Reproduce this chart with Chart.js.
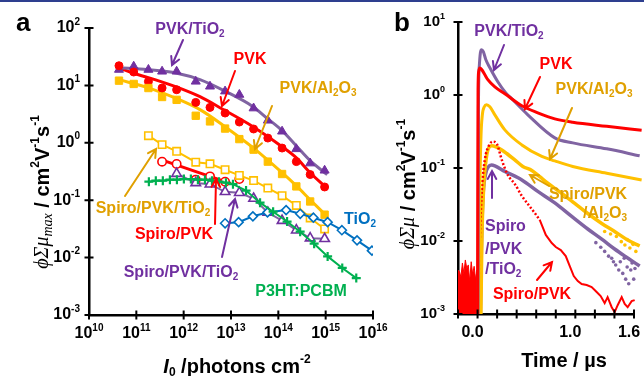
<!DOCTYPE html>
<html>
<head>
<meta charset="utf-8">
<script src="https://cdn.jsdelivr.net/npm/chart.js@4.4.1/dist/chart.umd.min.js"></script>
<style>
  html, body { margin: 0; padding: 0; background: #fff; }
  #wrap { position: relative; width: 644px; height: 376px; overflow: hidden; }
  #wrap canvas { position: absolute; left: 0; top: 0; }
  #topbar { position: absolute; left: 0; top: 0; width: 644px; height: 2px; background: #2e3f8f; }
</style>
</head>
<body>
<div id="wrap">
  <canvas id="chartA" width="644" height="376"></canvas>
  <canvas id="chartB" width="644" height="376"></canvas>
  <div id="topbar"></div>
</div>
<script>
/* ---------- panel a: peak mobility vs. photon fluence ---------- */
const intensity      = [4.3e10, 8.8e10, 1.8e11, 3.5e11, 7.1e11, 1.8e12, 3.6e12, 7.5e12, 1.5e13, 3.0e13, 6.0e13, 1.2e14, 2.4e14, 4.7e14, 9.5e14];
const pvkTiO2Max     = [18.8, 21.4, 18.8, 17.5, 17.5, 11.7, 9.6, 7.9, 6.9, 4.0, 2.45, 1.58, 0.78, 0.44, 0.33];
const pvkMax         = [22, 17.1, 11.7, 9.0, 8.4, 5.06, 4.14, 3.3, 2.3, 1.74, 1.21, 0.81, 0.47, 0.28, 0.17];
const pvkAl2O3Max    = [12.1, 10.6, 9.0, 6.28, 5.6, 2.96, 2.36, 1.77, 1.16, 0.76, 0.47, 0.286, 0.174, 0.095, 0.056];

const spiroGoldX     = [1.8e11, 3.5e11, 7.1e11, 1.8e12, 3.6e12, 7.5e12, 1.5e13, 3.0e13, 6.0e13, 1.2e14, 2.4e14, 4.7e14, 9.5e14];
const spiroGoldMax   = [1.33, 0.93, 0.71, 0.46, 0.43, 0.34, 0.27, 0.22, 0.163, 0.12, 0.081, 0.049, 0.0315];
const spiroPvkX      = [3.5e11, 7.1e11, 1.8e12, 3.6e12, 7.5e12, 1.5e13];
const spiroPvkMax    = [0.469, 0.428, 0.228, 0.26, 0.21, 0.234];
const spiroPurpleX   = [7.1e11, 1.8e12, 3.6e12, 7.5e12, 1.5e13, 3.0e13, 6.0e13, 1.2e14, 2.4e14, 4.7e14, 9.5e14];
const spiroPurpleMax = [0.29, 0.2, 0.19, 0.14, 0.135, 0.107, 0.061, 0.044, 0.030, 0.0218, 0.0213];
const tio2X          = [7.5e12, 1.45e13, 2.9e13, 5.9e13, 1.46e14, 2.9e14, 5.5e14, 1.1e15, 2.2e15, 4.6e15, 9.5e15];
const tio2Max        = [0.0396, 0.0414, 0.0524, 0.0612, 0.0673, 0.058, 0.0496, 0.0414, 0.030, 0.020, 0.0132];
const p3htX          = [1.84e11, 2.58e11, 3.63e11, 5.12e11, 7.2e11, 1.01e12, 1.42e12, 2.0e12, 2.82e12, 3.96e12, 5.57e12, 7.83e12,
                        1.1e13, 2.08e13, 4.11e13, 7.76e13, 1.53e14, 2.89e14, 5.71e14, 1.1e15, 2.24e15, 4.43e15];
const p3htMax        = [0.21, 0.219, 0.219, 0.228, 0.228, 0.233, 0.233, 0.228, 0.228, 0.219, 0.21, 0.202,
                        0.19, 0.147, 0.0906, 0.063, 0.0425, 0.0283, 0.0175, 0.0105, 0.0066, 0.0044];

// fit curves
const fitPvkTiO2X  = [4.26e10, 1.75e11, 7.2e11, 2.21e12, 7.47e12, 2.92e13, 5.78e13, 1.2e14, 2.38e14, 4.7e14, 1.08e15];
const fitPvkTiO2Y  = [20.3, 18.8, 16.3, 12.6, 7.93, 4.26, 2.68, 1.63, 0.89, 0.488, 0.278];
const fitPvkX      = [4.26e10, 8.83e10, 2.46e11, 7.2e11, 2.21e12, 5.85e12, 2.92e13, 1.2e14, 2.38e14, 4.7e14, 9.78e14];
const fitPvkY      = [20.3, 16.3, 12.6, 9.31, 6.35, 4.09, 1.91, 0.855, 0.55, 0.301, 0.172];
const fitAl2O3X    = [4.26e10, 1.75e11, 7.2e11, 2.21e12, 7.47e12, 2.92e13, 1.2e14, 2.38e14, 4.7e14, 1.03e15];
const fitAl2O3Y    = [12.6, 9.12, 5.86, 3.78, 1.91, 0.822, 0.301, 0.179, 0.102, 0.0537];
const fitSpiroPvkX = [3.3e11, 1.0e13];
const fitSpiroPvkY = [0.508, 0.194];

/* ---------- panel b: transients ---------- */
const tPvkTiO2   = [0.005, 0.009, 0.018, 0.029, 0.041, 0.059, 0.085, 0.126, 0.207, 0.289, 0.35, 0.514, 0.79, 0.974, 1.321, 1.658];
const vPvkTiO2   = [0.001, 0.625, 2.51, 3.79, 4.17, 3.92, 3.04, 2.36, 1.52, 1.07, 0.887, 0.535, 0.259, 0.221, 0.183, 0.147];
const tPvk       = [0.0, 0.002, 0.005, 0.011, 0.023, 0.044, 0.075, 0.105, 0.177, 0.279, 0.453, 0.616, 0.79, 0.973, 1.321, 1.678];
const vPvk       = [0.001, 0.0364, 1.18, 2.07, 2.34, 2.22, 1.89, 1.62, 1.29, 1.04, 0.711, 0.57, 0.471, 0.423, 0.372, 0.328];
const tPvkAl2O3  = [0.016, 0.023, 0.034, 0.049, 0.069, 0.092, 0.126, 0.177, 0.279, 0.453, 0.657, 0.79, 0.973, 1.321, 1.678];
const vPvkAl2O3  = [0.001, 0.0365, 0.243, 0.535, 0.689, 0.734, 0.689, 0.535, 0.333, 0.207, 0.144, 0.125, 0.105, 0.0849, 0.0687];
const tSpiroTiO2 = [0.029, 0.039, 0.054, 0.08, 0.11, 0.143, 0.177, 0.279, 0.453, 0.616, 0.79, 0.963, 1.127, 1.27, 1.402, 1.535, 1.658];
const vSpiroTiO2 = [0.001, 0.00752, 0.0365, 0.0804, 0.1035, 0.11, 0.107, 0.0898, 0.0687, 0.0478, 0.0332, 0.0217, 0.0146, 0.0106, 0.00776, 0.00585, 0.00454];
const tSpiroAl   = [0.034, 0.044, 0.064, 0.09, 0.115, 0.146, 0.187, 0.248, 0.299, 0.381, 0.463, 0.555, 0.636, 0.718, 0.861, 0.994, 1.127, 1.27, 1.402, 1.535, 1.658];
const vSpiroAl   = [0.001, 0.0103, 0.0586, 0.138, 0.189, 0.201, 0.195, 0.177, 0.158, 0.129, 0.105, 0.0927, 0.076, 0.0618, 0.0449, 0.0327, 0.0238, 0.0174, 0.0135, 0.0103, 0.00853];
const tSpiroPvk  = [0.003, 0.013, 0.023, 0.044, 0.074, 0.115, 0.156, 0.197, 0.248, 0.309, 0.381, 0.453, 0.514, 0.585, 0.636];
const vSpiroPvk  = [0.001, 0.00292, 0.0103, 0.0501, 0.129, 0.201, 0.230, 0.214, 0.129, 0.0804, 0.0605, 0.0414, 0.0322, 0.0242, 0.0194];
const tSpiroPvkTail = [0.636, 0.698, 0.759, 0.80, 0.851, 0.902, 0.943, 0.984, 1.025, 1.065, 1.116, 1.167, 1.218, 1.259, 1.30, 1.33,
                       1.372, 1.402, 1.433, 1.474, 1.505, 1.535, 1.576, 1.607, 1.627, 1.658];
const vSpiroPvkTail = [0.0194, 0.0121, 0.00938, 0.00826, 0.00752, 0.00622, 0.00454, 0.00331, 0.00283, 0.00257, 0.00249, 0.00234, 0.002, 0.00176, 0.00141, 0.0017,
                       0.00124, 0.00106, 0.00132, 0.0017, 0.00137, 0.00124, 0.0015, 0.00155, 0.00106, 0.0008];
const tBaseNoise = [-0.2, -0.185, -0.17, -0.155, -0.14, -0.125, -0.11, -0.095, -0.08, -0.065, -0.05, -0.035, -0.02, -0.005, 0.0];
const vBaseNoise = [0.004, 0.0038, 0.0032, 0.005, 0.0036, 0.0055, 0.0042, 0.0047, 0.0028, 0.0052, 0.0035, 0.0045, 0.003, 0.004, 0.001];
const tTiO2Scatter = [1.21, 1.26, 1.30, 1.34, 1.372, 1.39, 1.413, 1.444, 1.46, 1.485, 1.50, 1.515, 1.53, 1.546, 1.567, 1.58, 1.597, 1.61, 1.627, 1.648];
const vTiO2Scatter = [0.0095, 0.0082, 0.0072, 0.0062, 0.0058, 0.0052, 0.0047, 0.0040, 0.0052, 0.0036, 0.0058, 0.0030, 0.0044, 0.0026, 0.0040, 0.0050, 0.0030, 0.0042, 0.0033, 0.0027];
const tAlScatter   = [1.30, 1.36, 1.42, 1.47, 1.507, 1.53, 1.558, 1.59, 1.619, 1.64, 1.66];
const vAlScatter   = [0.0135, 0.0125, 0.0115, 0.0098, 0.0088, 0.0105, 0.0080, 0.0090, 0.0072, 0.0082, 0.0070];

const decadesA_X = [1e10, 1e11, 1e12, 1e13, 1e14, 1e15, 1e16];
const decadesA_Y = [1e-3, 1e-2, 1e-1, 1e0, 1e1, 1e2];
const decadesB_Y = [1e-3, 1e-2, 1e-1, 1e0, 1e1];
const timeTicks  = [-0.2, 0, 0.2, 0.4, 0.6, 0.8, 1.0, 1.2, 1.4, 1.6];
const timeLabels = [0, 1.0, 1.6];

/* ---------- colours & text helpers ---------- */
const PURPLE = "#7030a0", PURPLE_LINE = "#8064a2", RED = "#ff0000", GOLD = "#ffc000", GOLD_TEXT = "#e0a000",
      GREEN = "#00b050", BLUE = "#0070c0";
const SANS = '"Liberation Sans", Arial, sans-serif';
const SERIF = '"Liberation Serif", "DejaVu Serif", serif';

// markup: _{sub} ^{sup} *{italic serif} _*{italic serif sub} %{italic bold sans}
function parseRich(str) {
    const out = [];
    const re = /(_\*\{[^}]*\}|_\{[^}]*\}|\^\{[^}]*\}|\*\{[^}]*\}|%\{[^}]*\})/g;
    let last = 0, m;
    while ((m = re.exec(str))) {
        if (m.index > last) out.push({ t: str.slice(last, m.index), k: "n" });
        const tok = m[0];
        const body = tok.slice(tok.indexOf("{") + 1, -1);
        const k = tok.startsWith("_*") ? "si" : tok[0] === "_" ? "sub" : tok[0] === "^" ? "sup" : tok[0] === "*" ? "it" : "isans";
        out.push({ t: body, k });
        last = re.lastIndex;
    }
    if (last < str.length) out.push({ t: str.slice(last), k: "n" });
    return out;
}
function partFont(k, size) {
    switch (k) {
        case "sub": case "sup": return `bold ${Math.round(size * 0.62)}px ${SANS}`;
        case "si":  return `italic ${Math.round(size * 0.7)}px ${SERIF}`;
        case "it":  return `italic ${size}px ${SERIF}`;
        case "isans": return `italic bold ${size}px ${SANS}`;
        default:    return `bold ${size}px ${SANS}`;
    }
}
function partDy(k, size) {
    if (k === "sub" || k === "si") return size * 0.28;
    if (k === "sup") return -size * 0.38;
    return 0;
}
function drawRich(ctx, str, x, y, size, color, align) {
    const parts = parseRich(str);
    ctx.save();
    ctx.fillStyle = color;
    ctx.textBaseline = "middle";
    ctx.textAlign = "left";
    let w = 0;
    parts.forEach(p => { ctx.font = partFont(p.k, size); p.w = ctx.measureText(p.t).width; w += p.w; });
    let cx = align === "right" ? x - w : align === "left" ? x : x - w / 2;
    parts.forEach(p => { ctx.font = partFont(p.k, size); ctx.fillText(p.t, cx, y + partDy(p.k, size)); cx += p.w; });
    ctx.restore();
}
function drawArrow(ctx, a, color) {
    const [x1, y1, x2, y2] = a;
    const ang = Math.atan2(y2 - y1, x2 - x1), h = 9;
    ctx.save();
    ctx.strokeStyle = color;
    ctx.lineWidth = 2;
    ctx.lineCap = "round";
    ctx.beginPath();
    ctx.moveTo(x1, y1); ctx.lineTo(x2, y2);
    ctx.moveTo(x2 - h * Math.cos(ang - 0.5), y2 - h * Math.sin(ang - 0.5));
    ctx.lineTo(x2, y2);
    ctx.lineTo(x2 - h * Math.cos(ang + 0.5), y2 - h * Math.sin(ang + 0.5));
    ctx.stroke();
    ctx.restore();
}
function drawCrossTicks(chart, xTicks, yTicks) {
    const { ctx, scales: { x, y }, chartArea: a } = chart;
    ctx.save();
    ctx.strokeStyle = "#000";
    ctx.lineWidth = 2;
    ctx.beginPath();
    xTicks.forEach(v => { const px = x.getPixelForValue(v); ctx.moveTo(px, a.bottom - 4.5); ctx.lineTo(px, a.bottom + 4.5); });
    yTicks.forEach(v => { const py = y.getPixelForValue(v); ctx.moveTo(a.left - 4.5, py); ctx.lineTo(a.left + 4.5, py); });
    ctx.stroke();
    ctx.restore();
}
const pts = (xs, ys) => xs.map((x, i) => ({ x, y: ys[i] }));
const expOf = v => Math.round(Math.log10(v));

/* ---------- annotations ---------- */
const notesA = [
    { text: "PVK/TiO_{2}",       x: 190, y: 30,  color: PURPLE,    arrow: [183, 40, 172, 65] },
    { text: "PVK",               x: 250, y: 60,  color: RED,       arrow: [235, 71, 222, 106] },
    { text: "PVK/Al_{2}O_{3}",   x: 318, y: 89,  color: GOLD_TEXT, arrow: [272, 106, 255, 149] },
    { text: "Spiro/PVK/TiO_{2}", x: 153, y: 209, color: GOLD_TEXT, arrow: [125, 196, 156, 149] },
    { text: "Spiro/PVK",         x: 174, y: 235, color: RED,       arrow: [215, 224, 216, 179] },
    { text: "Spiro/PVK/TiO_{2}", x: 181, y: 273, color: PURPLE,    arrow: [222, 257, 235, 199] },
    { text: "TiO_{2}",           x: 360, y: 220, color: BLUE },
    { text: "P3HT:PCBM",         x: 301, y: 292, color: GREEN }
];
const notesB = [
    { text: "PVK/TiO_{2}",     x: 509, y: 32,  color: PURPLE,    arrow: [504, 45, 494, 70] },
    { text: "PVK",             x: 556, y: 65,  color: RED,       arrow: [540, 77, 525, 109] },
    { text: "PVK/Al_{2}O_{3}", x: 594, y: 90,  color: GOLD_TEXT, arrow: [572, 108, 550, 159] },
    { text: "Spiro/PVK",       x: 588, y: 195, color: GOLD_TEXT, arrow: [549, 186, 530, 175] },
    { text: "/Al_{2}O_{3}",    x: 605, y: 214, color: GOLD_TEXT },
    { text: "Spiro",           x: 485, y: 227, color: PURPLE, align: "left", arrow: [492, 198, 492, 171] },
    { text: "/PVK",            x: 485, y: 250, color: PURPLE, align: "left" },
    { text: "/TiO_{2}",        x: 485, y: 270, color: PURPLE, align: "left" },
    { text: "Spiro/PVK",       x: 532, y: 295, color: RED,       arrow: [537, 280, 552, 262] }
];
function drawNotes(ctx, notes) {
    notes.forEach(n => {
        if (n.arrow) drawArrow(ctx, n.arrow, n.color);
        drawRich(ctx, n.text, n.x, n.y, 16, n.color, n.align || "center");
    });
}
function drawRotated(ctx, str, x, y, size) {
    ctx.save();
    ctx.translate(x, y);
    ctx.rotate(-Math.PI / 2);
    drawRich(ctx, str, 0, 0, size, "#000", "center");
    ctx.restore();
}

const panelAPlugin = {
    id: "panelA",
    afterDraw(chart) {
        const { ctx, scales: { x, y }, chartArea: a } = chart;
        drawCrossTicks(chart, decadesA_X, decadesA_Y);
        decadesA_Y.forEach(v => drawRich(ctx, `10^{${expOf(v)}}`, a.left - 9, y.getPixelForValue(v), 16, "#000", "right"));
        decadesA_X.forEach(v => drawRich(ctx, `10^{${expOf(v)}}`, x.getPixelForValue(v), a.bottom + 19, 16, "#000", "center"));
        drawRotated(ctx, "*{ϕΣμ}_*{max} / cm^{2}V^{-1}s^{-1}", 43, 192, 20);
        drawRich(ctx, "%{I}_{0} /photons cm^{-2}", 237, 367, 20, "#000", "center");
        ctx.save();
        ctx.font = `bold 26px ${SANS}`;
        ctx.fillStyle = "#000";
        ctx.textBaseline = "middle";
        ctx.fillText("a", 16, 24);
        ctx.restore();
        drawNotes(ctx, notesA);
    }
};
const panelBPlugin = {
    id: "panelB",
    afterDraw(chart) {
        const { ctx, scales: { x, y }, chartArea: a } = chart;
        drawCrossTicks(chart, timeTicks, decadesB_Y);
        decadesB_Y.forEach(v => drawRich(ctx, `10^{${expOf(v)}}`, a.left - 13, y.getPixelForValue(v), 15, "#000", "right"));
        timeLabels.forEach(v => drawRich(ctx, v.toFixed(1), x.getPixelForValue(v) - 5, a.bottom + 19, 16, "#000", "center"));
        drawRotated(ctx, "*{ϕΣμ} / cm^{2}V^{-1}s^{-1}", 409, 184, 20);
        drawRich(ctx, "Time / µs", 564, 361, 20, "#000", "center");
        ctx.save();
        ctx.font = `bold 26px ${SANS}`;
        ctx.fillStyle = "#000";
        ctx.textBaseline = "middle";
        ctx.fillText("b", 394, 24);
        ctx.restore();
        drawNotes(ctx, notesB);
    }
};

/* ---------- datasets ---------- */
function markerSet(xs, ys, style, radius, color, open, lineColor) {
    return {
        data: pts(xs, ys),
        showLine: !!lineColor,
        borderColor: lineColor || color,
        borderWidth: 2,
        pointStyle: style,
        pointRadius: radius,
        pointBorderColor: color,
        pointBackgroundColor: open ? "#fff" : color,
        pointBorderWidth: style === "cross" ? 2.2 : open ? 1.6 : 1,
        order: 1
    };
}
function fitSet(xs, ys, color, smooth) {
    return {
        data: pts(xs, ys),
        showLine: true,
        borderColor: color,
        borderWidth: 3,
        pointRadius: 0,
        cubicInterpolationMode: smooth ? "monotone" : "default",
        order: 5
    };
}

const axisBase = {
    ticks: { display: false },
    grid: { display: false, drawTicks: false },
    border: { color: "#000", width: 2.5 }
};

new Chart(document.getElementById("chartA"), {
    type: "scatter",
    data: {
        datasets: [
            fitSet(fitPvkTiO2X, fitPvkTiO2Y, PURPLE_LINE, true),
            fitSet(fitPvkX, fitPvkY, RED, true),
            fitSet(fitAl2O3X, fitAl2O3Y, GOLD, true),
            fitSet(fitSpiroPvkX, fitSpiroPvkY, RED, false),
            markerSet(p3htX, p3htMax, "cross", 4.5, GREEN, false, GREEN),
            markerSet(tio2X, tio2Max, "rectRot", 4.5, BLUE, true, BLUE),
            markerSet(spiroPurpleX, spiroPurpleMax, "triangle", 5.5, PURPLE, true, PURPLE_LINE),
            markerSet(spiroGoldX, spiroGoldMax, "rect", 5.2, GOLD, true, GOLD),
            markerSet(spiroPvkX, spiroPvkMax, "circle", 4.2, RED, true),
            markerSet(intensity, pvkAl2O3Max, "rect", 5.2, GOLD, false),
            markerSet(intensity, pvkMax, "circle", 4, RED, false),
            markerSet(intensity, pvkTiO2Max, "triangle", 5.2, PURPLE, false)
        ]
    },
    options: {
        responsive: false,
        animation: false,
        devicePixelRatio: 1,
        layout: { padding: { left: 89, right: 271, top: 28, bottom: 61 } },
        plugins: { legend: { display: false }, tooltip: { enabled: false } },
        scales: {
            x: { ...axisBase, type: "logarithmic", min: 1e10, max: 1e16 },
            y: { ...axisBase, type: "logarithmic", min: 1e-3, max: 1e2 }
        }
    },
    plugins: [panelAPlugin]
});

function traceSet(ts, vs, color, width, extra) {
    return Object.assign({
        data: pts(ts, vs),
        showLine: true,
        borderColor: color,
        borderWidth: width,
        pointRadius: 0,
        cubicInterpolationMode: "monotone",
        clip: { left: 0, top: 0, right: 10, bottom: 0 }
    }, extra || {});
}
function dotsSet(ts, vs, color, order) {
    return {
        data: pts(ts, vs),
        showLine: false,
        pointRadius: 1.8,
        pointBorderWidth: 0,
        pointBackgroundColor: color,
        clip: { left: 0, top: 0, right: 10, bottom: 0 },
        order
    };
}

new Chart(document.getElementById("chartB"), {
    type: "scatter",
    data: {
        datasets: [
            traceSet(tPvk, vPvk, RED, 3, { order: 0 }),
            traceSet(tPvkTiO2, vPvkTiO2, PURPLE_LINE, 3, { order: 1 }),
            traceSet(tPvkAl2O3, vPvkAl2O3, GOLD, 3, { order: 2 }),
            traceSet(tSpiroPvk, vSpiroPvk, RED, 2.5, { order: 3, borderDash: [2, 2] }),
            traceSet(tSpiroPvkTail, vSpiroPvkTail, RED, 2, { order: 3, cubicInterpolationMode: "default", tension: 0 }),
            traceSet(tBaseNoise, vBaseNoise, RED, 1, { order: 3, cubicInterpolationMode: "default", tension: 0, fill: "start", backgroundColor: RED }),
            traceSet(tSpiroAl, vSpiroAl, GOLD, 3.5, { order: 4 }),
            dotsSet(tAlScatter, vAlScatter, GOLD, 4),
            traceSet(tSpiroTiO2, vSpiroTiO2, PURPLE_LINE, 3.5, { order: 5 }),
            dotsSet(tTiO2Scatter, vTiO2Scatter, PURPLE_LINE, 5)
        ]
    },
    options: {
        responsive: false,
        animation: false,
        devicePixelRatio: 1,
        layout: { padding: { left: 458, right: 10, top: 22, bottom: 62 } },
        plugins: { legend: { display: false }, tooltip: { enabled: false }, filler: { propagate: false } },
        scales: {
            x: { ...axisBase, type: "linear", min: -0.2, max: 1.6 },
            y: { ...axisBase, type: "logarithmic", min: 1e-3, max: 1e1 }
        }
    },
    plugins: [panelBPlugin]
});
</script>
</body>
</html>
